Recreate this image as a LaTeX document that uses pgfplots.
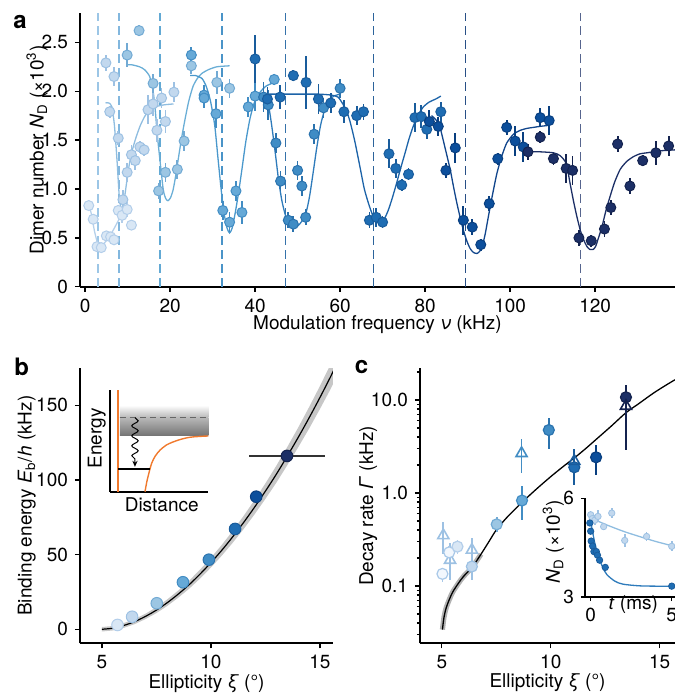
\documentclass[border=0pt]{standalone}
\usepackage{fontspec}
\setmainfont{TeX Gyre Heros}
\usepackage{pgfplots}
\pgfplotsset{compat=1.18}
\usetikzlibrary{decorations.pathmorphing,arrows.meta}

\definecolor{c0}{HTML}{F2F7FD}\definecolor{e0}{HTML}{A8C8E8}
\definecolor{c1}{HTML}{D9E7F5}\definecolor{e1}{HTML}{B3CEEA}
\definecolor{c2}{HTML}{C2D8EE}\definecolor{e2}{HTML}{9DC1E3}
\definecolor{c3}{HTML}{9CC6E3}\definecolor{e3}{HTML}{72AAD4}
\definecolor{c4}{HTML}{66A9D7}\definecolor{e4}{HTML}{428DC4}
\definecolor{c5}{HTML}{3F8CC5}\definecolor{e5}{HTML}{2B73AE}
\definecolor{c6}{HTML}{1F6DB3}\definecolor{e6}{HTML}{195C9C}
\definecolor{c7}{HTML}{0C4F9C}\definecolor{e7}{HTML}{093F80}
\definecolor{c8}{HTML}{1C2F66}\definecolor{e8}{HTML}{14234F}
\definecolor{l1}{HTML}{B5D0EA}\definecolor{l2}{HTML}{8FBDE0}
\definecolor{l3}{HTML}{6AAED6}\definecolor{l4}{HTML}{4A98CC}
\definecolor{l5}{HTML}{2E7BBB}\definecolor{l6}{HTML}{1C63A8}
\definecolor{l7}{HTML}{12468C}\definecolor{l8}{HTML}{1C2F66}
\definecolor{d1}{HTML}{9CC6E6}\definecolor{d2}{HTML}{82B7DE}
\definecolor{d3}{HTML}{62A9D4}\definecolor{d4}{HTML}{4A94C8}
\definecolor{d5}{HTML}{3572AA}\definecolor{d6}{HTML}{2C639B}
\definecolor{d7}{HTML}{284F86}\definecolor{d8}{HTML}{56658E}
\definecolor{orng}{HTML}{F07A2E}

\newcommand{\fs}{\fontsize{9.5}{11}\selectfont}

\pgfplotsset{
 base/.style={scale only axis, axis lines=left,
   axis line style={-, line width=1pt, black},
   every outer x axis line/.append style={-},
   every outer y axis line/.append style={-},
   tick align=outside, major tick length=2.5pt, minor tick length=1.5pt,
   tick style={black, line width=0.7pt},
   font=\fs, tick label style={font=\fs}, label style={font=\fs},
   /pgf/number format/assume math mode=true,
   anchor=south west},
 pts/.style 2 args={only marks, mark=*, mark size=2.5pt,
   mark options={fill=#1, draw=#2, line width=0.5pt, solid},
   error bars/y dir=both, error bars/y explicit, error bars/error mark=none,
   error bars/error bar style={line width=0.9pt, #2}},
 ptb/.style 2 args={only marks, mark=*, mark size=2.9pt,
   mark options={fill=#1, draw=#2, line width=0.5pt, solid}},
 ptc/.style 2 args={only marks, mark=*, mark size=2.75pt,
   mark options={fill=#1, draw=#2, line width=0.6pt, solid},
   error bars/y dir=both, error bars/y explicit, error bars/error mark=none,
   error bars/error bar style={line width=0.9pt, #2}},
 ptt/.style={only marks, mark=triangle, mark size=3.2pt,
   mark options={fill=white, draw=#1, line width=0.8pt, solid},
   error bars/y dir=both, error bars/y explicit, error bars/error mark=none,
   error bars/error bar style={line width=0.9pt, #1}},
 fitc/.style={#1, line width=0.65pt, no marks, smooth, tension=0.4},
 vl/.style={#1, line width=0.8pt, dash pattern=on 4.5pt off 2.5pt}
}

\begin{document}
\begin{tikzpicture}
\useasboundingbox (0pt,0pt) rectangle (337.5pt,-346.5pt);

\node[font=\bfseries\fontsize{12}{12}\selectfont] at (10pt,-11pt) {a};
\node[font=\bfseries\fontsize{12}{12}\selectfont] at (10.8pt,-183.3pt) {b};
\node[font=\bfseries\fontsize{12}{12}\selectfont] at (180.8pt,-183.3pt) {c};

% ---------------- panel a ----------------
\begin{axis}[base, at={(40pt,-143.35pt)}, width=297.5pt, height=136.85pt,
  xmin=-1.2, xmax=138.8, ymin=0, ymax=2.8,
  xtick={0,20,40,60,80,100,120}, ytick={0,0.5,1,1.5,2,2.5},
  yticklabels={0,0.5,1.0,1.5,2.0,2.5},
  xlabel={Modulation frequency \textit{ν} (kHz)},
  ylabel={Dimer number \textit{N}\textsubscript{D} (×10\textsuperscript{3})},
  xlabel style={at={(axis description cs:0.5,-0.14)}, anchor=center},
  ylabel style={at={(axis description cs:-0.0723,0.5)}, anchor=center}]
\addplot[vl=d1] coordinates {(3.0,0)(3.0,2.8)};
\addplot[vl=d2] coordinates {(8.0,0)(8.0,2.8)};
\addplot[vl=d3] coordinates {(17.6,0)(17.6,2.8)};
\addplot[vl=d4] coordinates {(32.2,0)(32.2,2.8)};
\addplot[vl=d5] coordinates {(47.2,0)(47.2,2.8)};
\addplot[vl=d6] coordinates {(67.9,0)(67.9,2.8)};
\addplot[vl=d7] coordinates {(89.5,0)(89.5,2.8)};
\addplot[vl=d8] coordinates {(116.6,0)(116.6,2.8)};

\addplot[fitc=l1] coordinates {(0.8,0.85)(1.5,0.74)(2.2,0.57)(3.0,0.44)(3.8,0.42)(4.6,0.45)(5.5,0.5)(6.5,0.57)(7.5,0.65)(8.5,0.73)(9.5,0.79)(10.3,0.82)};
\addplot[fitc=l2] coordinates {(4.8,1.88)(5.6,1.88)(6.3,1.84)(6.9,1.65)(7.5,1.3)(8.0,0.95)(8.5,0.78)(8.9,0.8)(9.5,0.98)(10.2,1.2)(11,1.38)(12,1.53)(13,1.65)(14,1.74)(15,1.8)(16.5,1.84)(18.5,1.86)(20.8,1.87)};
\addplot[fitc=l3] coordinates {(9.8,2.27)(11,2.27)(12.8,2.25)(14,2.22)(15.2,2.15)(16,2.0)(16.5,1.81)(17,1.55)(17.6,1.3)(18.4,0.99)(19,0.9)(19.5,0.88)(20.1,0.91)(20.7,0.99)(21.3,1.13)(21.9,1.3)(22.7,1.52)(23.5,1.71)(24.4,1.9)(25.4,2.05)(26.4,2.13)(27.4,2.18)(29,2.22)(31,2.25)(34,2.26)};
\addplot[fitc=l4] coordinates {(24.7,2.16)(26,2.16)(27.5,2.13)(28.5,2.05)(29.5,1.9)(30.5,1.65)(31.3,1.3)(32,1.0)(32.7,0.75)(33.4,0.6)(34,0.55)(34.6,0.6)(35.3,0.75)(36.1,0.96)(36.9,1.2)(37.8,1.48)(38.8,1.72)(39.8,1.88)(41,1.98)(42.5,2.05)(44.5,2.09)(45.5,2.1)};
\addplot[fitc=l5] coordinates {(40,1.96)(41.5,1.96)(42.5,1.93)(43.3,1.82)(44,1.62)(44.8,1.35)(45.5,1.1)(46.3,0.88)(47.2,0.72)(48.1,0.63)(49,0.6)(50,0.62)(51,0.67)(52,0.76)(52.8,0.92)(53.6,1.15)(54.5,1.42)(55.4,1.65)(56.3,1.8)(57.3,1.9)(58.5,1.95)(60,1.97)};
\addplot[fitc=l6] coordinates {(42.7,1.97)(50,1.97)(55,1.97)(58,1.96)(59.5,1.94)(60.5,1.88)(61.5,1.8)(62.4,1.68)(63.5,1.48)(64.7,1.22)(65.7,1.0)(66.7,0.85)(67.5,0.75)(68.2,0.69)(69,0.66)(69.8,0.66)(70.6,0.71)(71.4,0.79)(72.3,0.91)(73.3,1.06)(74.3,1.22)(75.3,1.37)(76.2,1.51)(77.2,1.64)(78.4,1.76)(79.6,1.84)(81,1.89)(82.5,1.92)(83.7,1.95)};
\addplot[fitc=l7] coordinates {(81.5,1.75)(82.5,1.71)(83.5,1.63)(84.7,1.42)(85.9,1.2)(86.7,1.02)(87.5,0.85)(88.3,0.7)(89,0.58)(89.8,0.47)(90.6,0.39)(91.4,0.35)(92.2,0.34)(92.8,0.36)(93.4,0.41)(94.1,0.53)(94.9,0.72)(95.9,0.95)(96.9,1.16)(98,1.33)(99.2,1.47)(100.8,1.56)(102.4,1.6)(104,1.62)(105.5,1.63)(107,1.64)(109,1.65)};
\addplot[fitc=l8] coordinates {(104.2,1.38)(107,1.38)(110.2,1.37)(111.8,1.34)(113.2,1.26)(114.1,1.06)(114.9,0.88)(115.7,0.72)(116.5,0.58)(117.3,0.48)(118.1,0.41)(118.8,0.38)(119.5,0.38)(120.1,0.41)(120.8,0.5)(121.6,0.61)(122.5,0.77)(123.5,0.92)(124.6,1.07)(125.9,1.2)(127.4,1.28)(129,1.33)(130.6,1.36)(132.2,1.37)(135.3,1.39)(138.8,1.4)};

\addplot[pts={c1}{e1}] table[x=x,y=y,y error=e,row sep=\\] {x y e\\
0.86 0.83 0.05\\ 1.9 0.69 0.05\\ 2.8 0.41 0.04\\ 3.8 0.40 0.04\\ 5.0 0.52 0.05\\ 6.0 0.51 0.05\\ 6.8 0.48 0.05\\ 7.8 0.78 0.06\\ 8.7 0.73 0.08\\ 9.9 0.79 0.08\\ 10.9 0.63 0.05\\};
\addplot[pts={c2}{e2}] table[x=x,y=y,y error=e,row sep=\\] {x y e\\
4.9 2.29 0.08\\ 5.8 1.79 0.06\\ 6.8 2.15 0.1\\ 7.8 1.52 0.07\\ 8.9 0.89 0.1\\ 9.9 1.17 0.1\\ 10.9 1.35 0.1\\ 11.8 1.29 0.1\\ 12.9 1.43 0.06\\ 13.9 1.40 0.06\\ 14.8 1.81 0.15\\ 16.0 1.87 0.12\\ 16.9 1.60 0.12\\ 18.0 1.93 0.1\\ 18.9 1.69 0.12\\ 20.9 1.99 0.1\\};
\addplot[pts={c3}{e3}] table[x=x,y=y,y error=e,row sep=\\] {x y e\\
9.9 2.37 0.12\\ 12.7 2.62 0.06\\ 16.0 2.08 0.1\\ 17.3 0.98 0.08\\ 18.9 1.17 0.1\\ 21.7 1.20 0.1\\ 23.3 1.49 0.1\\ 25.0 2.26 0.08\\ 31.0 2.09 0.12\\ 34.0 2.03 0.1\\};
\addplot[pts={c4}{e4}] table[x=x,y=y,y error=e,row sep=\\] {x y e\\
25.0 2.37 0.08\\ 28.0 1.96 0.1\\ 28.0 1.93 0.1\\ 30.8 1.77 0.15\\ 32.4 0.78 0.1\\ 34.0 0.66 0.1\\ 35.5 0.98 0.1\\ 36.9 0.76 0.12\\ 38.4 1.84 0.1\\ 40.0 1.95 0.15\\ 44.5 2.12 0.06\\};
\addplot[pts={c5}{e5}] table[x=x,y=y,y error=e,row sep=\\] {x y e\\
42.0 1.94 0.15\\ 43.1 1.86 0.15\\ 44.9 1.47 0.1\\ 46.0 1.08 0.1\\ 47.8 0.68 0.08\\ 49.0 0.64 0.08\\ 50.0 1.19 0.1\\ 51.0 1.03 0.1\\ 51.9 0.71 0.08\\ 53.9 1.56 0.1\\ 56.1 1.83 0.1\\ 60.0 2.03 0.1\\};
\addplot[pts={c6}{e6}] table[x=x,y=y,y error=e,row sep=\\] {x y e\\
40.0 2.33 0.25\\ 42.9 1.92 0.12\\ 45.9 1.94 0.12\\ 49.0 2.16 0.06\\ 52.0 2.09 0.27\\ 54.9 1.92 0.15\\ 57.8 1.88 0.1\\ 60.9 1.79 0.12\\ 63.9 1.75 0.1\\ 65.5 1.79 0.08\\ 66.9 0.68 0.08\\ 68.5 0.71 0.1\\ 70.0 0.66 0.06\\ 71.5 1.36 0.15\\ 73.1 1.21 0.1\\ 74.5 1.04 0.06\\ 76.1 1.15 0.06\\ 77.6 1.73 0.15\\ 79.1 1.74 0.12\\ 80.4 1.61 0.1\\ 83.7 1.79 0.1\\};
\addplot[pts={c7}{e7}] table[x=x,y=y,y error=e,row sep=\\] {x y e\\
81.0 1.69 0.12\\ 83.1 1.64 0.1\\ 84.9 1.19 0.08\\ 87.1 1.42 0.15\\ 89.0 0.68 0.15\\ 91.1 0.61 0.08\\ 93.1 0.43 0.06\\ 95.1 0.85 0.08\\ 97.1 1.31 0.06\\ 99.2 1.63 0.08\\ 101.2 1.49 0.15\\ 103.1 1.43 0.15\\ 107.1 1.73 0.1\\ 109.2 1.70 0.15\\};
\addplot[pts={c8}{e8}] table[x=x,y=y,y error=e,row sep=\\] {x y e\\
104.2 1.38 0.08\\ 107.1 1.53 0.06\\ 110.2 1.31 0.06\\ 113.2 1.21 0.15\\ 114.7 1.19 0.15\\ 116.2 0.50 0.08\\ 119.1 0.47 0.06\\ 122.2 0.59 0.08\\ 123.7 0.81 0.08\\ 125.3 1.46 0.08\\ 128.2 1.03 0.08\\ 131.2 1.29 0.06\\ 134.3 1.37 0.12\\ 137.3 1.44 0.1\\};
\end{axis}

% ---------------- panel b ----------------
\begin{axis}[base, at={(40pt,-321.65pt)}, width=126.5pt, height=137.65pt,
  xmin=4.0, xmax=15.6, ymin=-9.4, ymax=175,
  xtick={5,10,15}, ytick={0,50,100,150},
  xlabel={Ellipticity \textit{ξ} (°)},
  ylabel={Binding energy \textit{E}\textsubscript{b}/\textit{h} (kHz)},
  xlabel style={at={(axis description cs:0.5,-0.145)}, anchor=center},
  ylabel style={at={(axis description cs:-0.2107,0.5)}, anchor=center}]
\addplot[draw=none, fill=black!22] coordinates {(5.0,1.5)(5.5,2.2)(6.0,4.1)(6.5,6.8)(7.0,10.4)(7.5,14.8)(8.0,20.0)(8.5,25.9)(9.0,32.5)(9.5,39.9)(10,47.9)(10.5,56.5)(11,65.9)(11.5,75.9)(12,86.5)(12.5,97.7)(13,109.5)(13.5,122.0)(14,135.0)(14.5,148.7)(15,162.9)(15.5,177.8)(15.7,184.1)
 (15.7,167.1)(15.5,161.2)(15,147.5)(14.5,134.3)(14,121.8)(13.5,109.8)(13,98.1)(12.5,87.3)(12,76.9)(11.5,67.1)(11,57.9)(10.5,49.3)(10,41.3)(9.5,33.9)(9.0,27.1)(8.5,21.1)(8.0,15.6)(7.5,10.8)(7.0,6.8)(6.5,3.4)(6.0,0.9)(5.5,-0.8)(5.0,-1.5)};
\addplot[black, line width=0.6pt, smooth] coordinates {(5.0,0)(5.5,0.7)(6.0,2.5)(6.5,5.1)(7.0,8.6)(7.5,12.8)(8.0,17.8)(8.5,23.5)(9.0,29.8)(9.5,36.9)(10,44.6)(10.5,52.9)(11,61.9)(11.5,71.5)(12,81.7)(12.5,92.5)(13,103.8)(13.5,115.9)(14,128.4)(14.5,141.5)(15,155.2)(15.5,169.5)(15.7,175.6)};
\addplot[ptb={c1}{e1}] coordinates {(5.72,2.9)};
\addplot[ptb={c2}{e2}] coordinates {(6.39,8.4)};
\addplot[ptb={c3}{e3}] coordinates {(7.52,17.4)};
\addplot[ptb={c4}{e4}] coordinates {(8.72,31.5)};
\addplot[ptb={c5}{e5}] coordinates {(9.91,46.6)};
\addplot[ptb={c6}{e6}] coordinates {(11.11,67.2)};
\addplot[ptb={c7}{e7}] coordinates {(12.08,88.8)};
\addplot[ptb={c8}{e8}, error bars/x dir=both, error bars/x explicit, error bars/error mark=none,
  error bars/error bar style={line width=0.6pt, black!80}] coordinates {(13.49,116.1) +- (1.76,0)};
\end{axis}

% inset b
\begin{axis}[scale only axis, anchor=south west, at={(55pt,-245.85pt)}, width=49.15pt, height=50.85pt,
  xmin=0, xmax=1, ymin=0, ymax=1, axis lines=left,
  axis line style={-, line width=1pt, black},
  every outer x axis line/.append style={-}, every outer y axis line/.append style={-},
  xtick=\empty, ytick=\empty, clip=false,
  font=\fs, label style={font=\fs},
  xlabel={Distance}, ylabel={Energy},
  xlabel style={at={(axis description cs:0.526,-0.131)}, anchor=center},
  ylabel style={at={(axis description cs:-0.135,0.525)}, anchor=center}]
\addplot[draw=none, shade, top color=black!28, bottom color=black!55] coordinates {(0.10,0.548)(1,0.548)(1,0.728)(0.10,0.728)};
\addplot[draw=none, shade, top color=white, bottom color=black!28] coordinates {(0.10,0.728)(1,0.728)(1,0.85)(0.10,0.85)};
\addplot[black!60, line width=0.6pt, dash pattern=on 3pt off 2pt] coordinates {(0.10,0.728)(1,0.728)};
\addplot[orng, line width=0.7pt] coordinates {(0.08,0)(0.08,1)};
\addplot[orng, line width=0.7pt, smooth] coordinates {(0.356,0)(0.375,0.1)(0.395,0.18)(0.424,0.28)(0.46,0.35)(0.51,0.41)(0.575,0.46)(0.644,0.49)(0.72,0.515)(0.81,0.535)(0.9,0.543)(1.0,0.548)};
\addplot[black, line width=1pt] coordinates {(0.08,0.223)(0.41,0.223)};
\addplot[black, line width=0.5pt, decorate, decoration={snake, amplitude=1.6pt, segment length=5pt, post length=3pt}, -{Stealth[length=3pt,width=2.6pt]}] coordinates {(0.254,0.728)(0.254,0.245)};
\end{axis}

% ---------------- panel c ----------------
\begin{axis}[base, ymode=log, at={(210pt,-321.65pt)}, width=127.5pt, height=137.5pt,
  xmin=4.0, xmax=15.7, ymin=0.0242, ymax=21.9,
  xtick={5,10,15}, ytick={0.1,1,10}, yticklabels={0.1,1.0,10.0},
  minor ytick={0.03,0.04,0.05,0.06,0.07,0.08,0.09,0.2,0.3,0.4,0.5,0.6,0.7,0.8,0.9,2,3,4,5,6,7,8,9,20},
  xlabel={Ellipticity \textit{ξ} (°)},
  ylabel={Decay rate \textit{Γ} (kHz)},
  xlabel style={at={(axis description cs:0.5,-0.145)}, anchor=center},
  ylabel style={at={(axis description cs:-0.2027,0.5)}, anchor=center}]
\addplot[black!30, line width=2.6pt, smooth] coordinates {(5.03,0.034)(5.1,0.046)(5.2,0.058)(5.35,0.072)(5.5,0.086)(5.75,0.106)(6.0,0.127)(6.4,0.16)(6.8,0.22)};
\addplot[black, line width=0.65pt, smooth, tension=0.5] coordinates {(5.03,0.034)(5.1,0.046)(5.2,0.058)(5.35,0.072)(5.5,0.086)(5.75,0.106)(6.0,0.127)(6.4,0.16)(6.8,0.22)(7.2,0.31)(7.5,0.40)(8.0,0.55)(8.7,0.80)(9.3,1.08)(10.0,1.50)(10.6,1.95)(11.1,2.4)(11.6,3.0)(12.1,3.8)(12.8,5.3)(13.45,7.3)(14.0,9.0)(14.7,11.8)(15.3,14.5)(15.7,16.5)};
% triangles
\addplot[ptt=e2] table[x=x,y=y,y error plus=ep,y error minus=em,row sep=\\] {x y ep em\\ 5.07 0.35 0.14 0.13\\ 5.38 0.19 0.10 0.075\\ 6.38 0.244 0.086 0.054\\};
\addplot[ptt=e4] table[x=x,y=y,y error plus=ep,y error minus=em,row sep=\\] {x y ep em\\ 8.66 2.67 1.1 1.04\\};
% circles
\addplot[ptc={c0}{e0}] table[x=x,y=y,y error plus=ep,y error minus=em,row sep=\\] {x y ep em\\ 5.03 0.135 0.02 0.025\\ 5.34 0.23 0.04 0.03\\};
\addplot[ptc={c1}{e1}] table[x=x,y=y,y error plus=ep,y error minus=em,row sep=\\] {x y ep em\\ 5.72 0.265 0.045 0.045\\};
\addplot[ptc={c2}{e2}] table[x=x,y=y,y error plus=ep,y error minus=em,row sep=\\] {x y ep em\\ 6.38 0.162 0.038 0.046\\};
\addplot[ptc={c3}{e3}] table[x=x,y=y,y error plus=ep,y error minus=em,row sep=\\] {x y ep em\\ 7.52 0.46 0.09 0.08\\};
\addplot[ptc={c4}{e4}] table[x=x,y=y,y error plus=ep,y error minus=em,row sep=\\] {x y ep em\\ 8.68 0.83 0.37 0.32\\};
\addplot[ptc={c5}{e5}] table[x=x,y=y,y error plus=ep,y error minus=em,row sep=\\] {x y ep em\\ 9.91 4.75 1.7 1.75\\};
\addplot[ptc={c6}{e6}] table[x=x,y=y,y error plus=ep,y error minus=em,row sep=\\] {x y ep em\\ 11.08 1.89 1.11 0.67\\};
\addplot[ptc={c7}{e7}] table[x=x,y=y,y error plus=ep,y error minus=em,row sep=\\] {x y ep em\\ 12.08 2.42 0.86 0.86\\};
\addplot[ptc={c8}{e8}] table[x=x,y=y,y error plus=ep,y error minus=em,row sep=\\] {x y ep em\\ 13.45 10.7 3.8 3.2\\};
\addplot[ptt=e6] table[x=x,y=y,y error plus=ep,y error minus=em,row sep=\\] {x y ep em\\ 11.08 2.2 0.8 0.7\\};
\addplot[ptt=e8] table[x=x,y=y,y error plus=ep,y error minus=em,row sep=\\] {x y ep em\\ 13.45 8.6 5.4 5.7\\};
\end{axis}

% inset c
\begin{axis}[base, at={(292.5pt,-298.5pt)}, width=45.4pt, height=49.35pt,
  xmin=-0.35, xmax=5.25, ymin=3, ymax=6, xtick={0,5}, ytick={3,6},
  major tick length=2pt, clip=false,
  xlabel={\textit{t} (ms)},
  ylabel={\textit{N}\textsubscript{D} (×10\textsuperscript{3})},
  xlabel style={at={(axis description cs:0.532,-0.075)}, anchor=center},
  ylabel style={at={(axis description cs:-0.349,0.56)}, anchor=center}]
\addplot[l2, line width=0.65pt, smooth] coordinates {(0,5.4)(1,5.19)(2,5.0)(3,4.84)(4,4.69)(5,4.56)(5.25,4.53)};
\addplot[l5, line width=0.65pt, smooth] coordinates {(0,5.3)(0.25,4.65)(0.5,4.2)(0.75,3.9)(1,3.68)(1.5,3.48)(2,3.39)(3,3.34)(4,3.33)(5.25,3.33)};
\addplot[only marks, mark=*, mark size=1.6pt, mark options={fill=c2, draw=e2, line width=0.4pt},
  error bars/y dir=both, error bars/y explicit, error bars/error mark=none,
  error bars/error bar style={line width=0.8pt, e2}] table[x=x,y=y,y error=e,row sep=\\] {x y e\\
0 5.5 0.12\\ 0.1 5.38 0.12\\ 0.25 5.33 0.15\\ 0.45 5.45 0.18\\ 0.8 5.14 0.1\\ 1.3 5.55 0.15\\ 2.1 4.72 0.2\\ 3.45 4.84 0.15\\ 5.0 4.54 0.15\\};
\addplot[only marks, mark=*, mark size=1.6pt, mark options={fill=c6, draw=e6, line width=0.4pt},
  error bars/y dir=both, error bars/y explicit, error bars/error mark=none,
  error bars/error bar style={line width=0.8pt, e6}] table[x=x,y=y,y error=e,row sep=\\] {x y e\\
-0.05 5.25 0.08\\ 0 5.0 0.08\\ 0.03 4.7 0.08\\ 0.12 4.55 0.08\\ 0.2 4.38 0.08\\ 0.35 4.38 0.08\\ 0.42 4.27 0.08\\ 0.55 4.12 0.08\\ 0.9 3.9 0.1\\ 5.0 3.33 0.06\\};
\end{axis}
\end{tikzpicture}
\end{document}
